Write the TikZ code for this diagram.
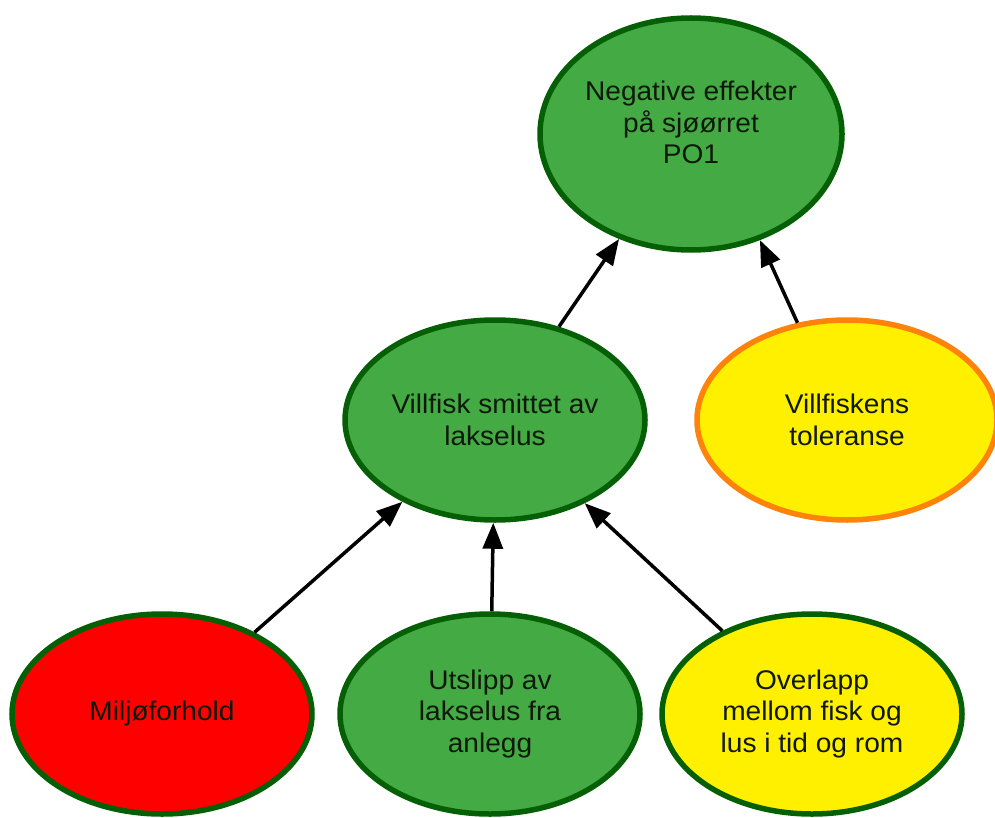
\documentclass[tikz,border=0pt]{standalone}
\usepackage{fontspec}
\setmainfont[FakeStretch=1.04]{Liberation Sans}
\usepackage{tikz}
\usetikzlibrary{shapes.geometric,arrows.meta,positioning}
\definecolor{leaf}{RGB}{68,170,68}
\definecolor{rim}{RGB}{5,95,5}
\definecolor{alarm}{RGB}{255,0,0}
\definecolor{warn}{RGB}{255,240,0}
\definecolor{amber}{RGB}{255,130,10}
\definecolor{ink}{RGB}{15,25,10}

\begin{document}
\begin{tikzpicture}[x=1pt, y=1pt, node distance=290pt,
node/.style={ellipse, draw=rim, line width=5.5pt, inner sep=0pt, align=center,
  minimum width=300pt, minimum height=200pt, text=ink,
  font=\fontsize{27}{31.5}\selectfont},
okay/.style={node, fill=leaf},
risk/.style={node, fill=warn},
bad/.style={node, fill=alarm},
>={Triangle[length=26pt, width=20pt]}
]
\useasboundingbox (0,0) rectangle (995,-818);
%Nodes
\node[okay, minimum width=302pt, minimum height=232pt] (neg) at (691,-134)
  {Negative effekter\\på sjøørret\\PO1\\[-8pt]};
\node[okay]      (vill)   [below of=neg, xshift=-196pt, yshift=4pt]     {Villfisk smittet av\\lakselus};
\node[risk, draw=amber] (tol) [below of=neg, xshift=156pt, yshift=4pt]  {Villfiskens\\toleranse};
\node[bad]       (milj)   [below of=vill, xshift=-333pt, yshift=-4pt]   {Miljøforhold};
\node[okay]      (utsl)   [below of=vill, xshift=-5pt, yshift=-4pt]     {Utslipp av\\lakselus fra\\anlegg};
\node[risk]      (over)   [below of=vill, xshift=317pt, yshift=-4pt]    {Overlapp\\mellom fisk og\\lus i tid og rom};
%Lines
\draw[->, line width=3.5pt] (vill) -- (neg);
\draw[->, line width=3.5pt] (tol.117) -- (neg.-57);
\draw[->, line width=3.5pt] (milj) -- (vill);
\draw[->, line width=3.5pt] (utsl) -- (vill);
\draw[->, line width=3.5pt] (over) -- (vill);
\end{tikzpicture}
\end{document}
